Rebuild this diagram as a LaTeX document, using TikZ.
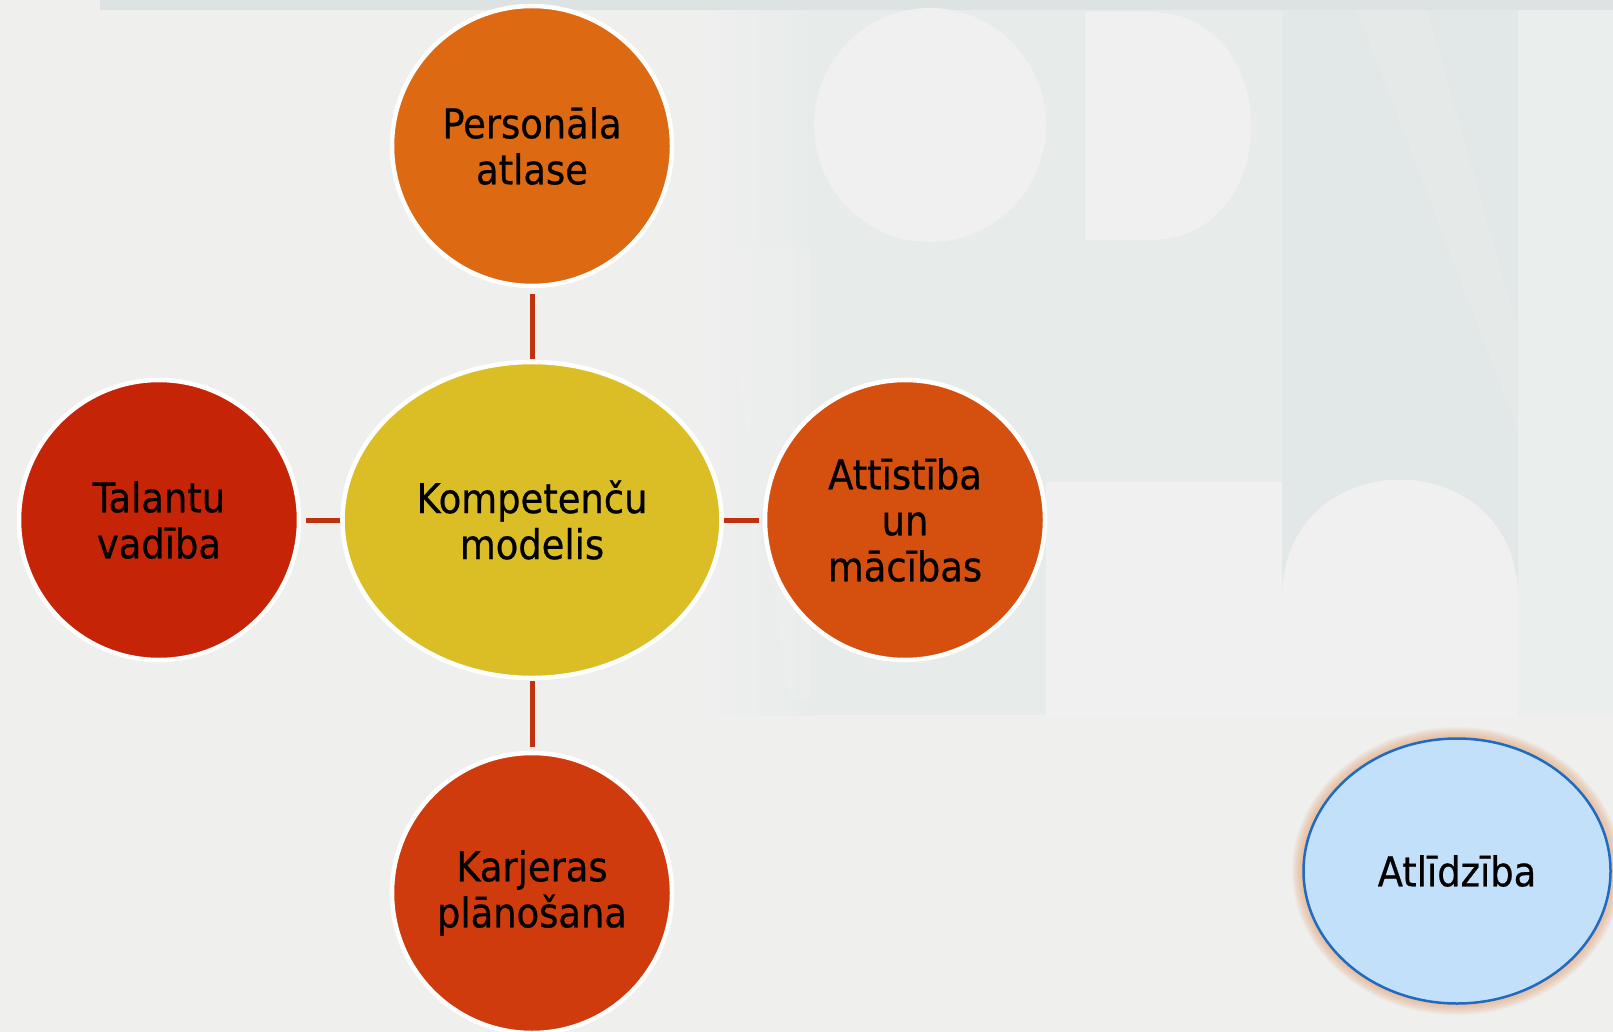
\documentclass[tikz,border=0pt]{standalone}
\usepackage{fontspec}
\setmainfont{DejaVu Sans Condensed}[FakeBold=0.6]
\usetikzlibrary{shapes.geometric}
\definecolor{bg}{HTML}{EFEFEE}
\definecolor{tint}{HTML}{E7ECEB}
\definecolor{tintdark}{HTML}{E1E8E7}
\definecolor{tintright}{HTML}{EAEEED}
\definecolor{lightshape}{HTML}{EFF0EF}
\definecolor{band}{HTML}{DDE3E2}
\definecolor{cTop}{HTML}{DD6A12}
\definecolor{cMid}{HTML}{DBBE26}
\definecolor{cLeft}{HTML}{C52407}
\definecolor{cRight}{HTML}{D5500F}
\definecolor{cBot}{HTML}{CF3B0C}
\definecolor{cAtl}{HTML}{C2E0FA}
\definecolor{cAtlB}{HTML}{1F6BC0}
\definecolor{glowc}{HTML}{E8A070}
\definecolor{linkc}{HTML}{C0320E}
\begin{document}
\begin{tikzpicture}[x=1pt,y=-1pt,
  bubble/.style={circle, minimum size=280pt, draw=white, line width=4.5pt,
    inner sep=0pt, align=center, font=\fontsize{41}{46}\selectfont, text=black},
  linkline/.style={draw=linkc, line width=5pt},
  atlstyle/.style={ellipse, fill=cAtl, draw=cAtlB, line width=2.5pt,
    minimum width=307pt, minimum height=265pt, inner sep=0pt,
    font=\fontsize{41}{46}\selectfont, text=black}
]
\useasboundingbox (0,0) rectangle (1613,1032);
% background
\fill[bg] (0,0) rectangle (1613,1032);
\shade[left color=bg, right color=tint] (700,0) rectangle (813,715);
\fill[tint] (813,0) rectangle (1613,715);
\fill[tintdark] (1282,10) rectangle (1518,715);
\fill[tintright] (1518,10) rectangle (1613,715);
\fill[band] (100,0) rectangle (1613,10);
% faint letter shapes
\fill[lightshape] (930,125) ellipse (116 and 117);
\fill[lightshape] (1085,12) -- (1150,12) .. controls (1285,12) and (1285,240) .. (1150,240) -- (1085,240) -- cycle;
\fill[lightshape] (1046,482) rectangle (1282,717);
\fill[lightshape] (1282,717) -- (1282,598) .. controls (1282,440) and (1518,440) .. (1518,598) -- (1518,717) -- cycle;
\fill[lightshape, opacity=0.35] (1357,10) -- (1427,10) -- (1518,330) -- (1518,430) -- cycle;
\fill[lightshape, opacity=0.4] (717,247) -- (810,247) -- (810,700) -- (790,700) -- cycle;
% nodes
\node[bubble, ellipse, fill=cMid, minimum width=379pt, minimum height=316pt] (mid) at (532,520) {Kompetenču\\modelis};
\node[bubble, fill=cTop] (top) at (532,146) {Personāla\\atlase};
\node[bubble, fill=cLeft] (left) at (159,520) {Talantu\\vadība};
\node[bubble, fill=cRight] (right) at (905,520) {Attīstība\\un\\mācības};
\node[bubble, fill=cBot] (bot) at (532,893) {Karjeras\\plānošana};
% glow behind Atlidziba
\coordinate (atlc) at (1457,871);
\foreach \i in {1,...,12}{
  \fill[glowc, opacity=0.07] (atlc) ellipse ({153+\i} and {132+\i});
}
\node[atlstyle] (atl) at (atlc) {Atlīdzība};
% connectors
\draw[linkline, shorten <=6pt, shorten >=0.5pt] (top) -- (mid);
\draw[linkline, shorten <=0.5pt, shorten >=4pt] (mid) -- (bot);
\draw[linkline, shorten <=5pt, shorten >=0.5pt] (left) -- (mid);
\draw[linkline, shorten <=0.5pt, shorten >=4pt] (mid) -- (right);
\end{tikzpicture}
\end{document}
